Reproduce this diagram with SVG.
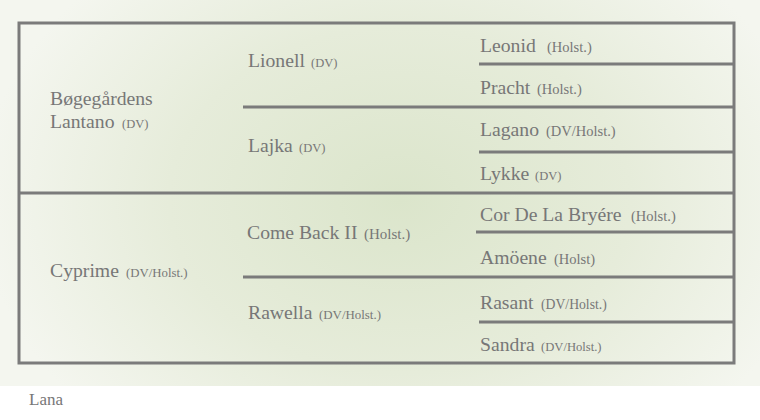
<svg xmlns="http://www.w3.org/2000/svg" width="760" height="420" viewBox="0 0 760 420">
<defs>
<radialGradient id="bg" cx="400" cy="200" r="420" gradientUnits="userSpaceOnUse" gradientTransform="translate(400 200) scale(1 0.75) translate(-400 -200)">
<stop offset="0" stop-color="#dbe5cb"/>
<stop offset="0.55" stop-color="#e6ecda"/>
<stop offset="1" stop-color="#f4f6ef"/>
</radialGradient>
<style>
.ln{stroke:#7b7b7b;stroke-width:3;fill:none}
text{font-family:'Liberation Serif','Times New Roman',serif;font-size:19.7px;fill:#777777}
.s{font-size:12.5px}
.m{font-size:14.5px}
</style>
</defs>
<rect x="0" y="0" width="760" height="386" fill="url(#bg)"/>
<g id="connectors">
<rect class="ln" x="19" y="23" width="715" height="340"/>
<line class="ln" x1="19" y1="193" x2="734" y2="193"/>
<line class="ln" x1="243" y1="107" x2="734" y2="107"/>
<line class="ln" x1="243" y1="277" x2="734" y2="277"/>
<line class="ln" x1="479" y1="64" x2="734" y2="64"/>
<line class="ln" x1="479" y1="152" x2="734" y2="152"/>
<line class="ln" x1="476" y1="232" x2="734" y2="232"/>
<line class="ln" x1="479" y1="322" x2="734" y2="322"/>
</g>
<g id="n-bogegardens"><text x="50" y="105">Bøgegårdens</text><text x="50" y="128">Lantano <tspan class="s" x="122">(DV)</tspan></text></g>
<g id="n-cyprime"><text x="50" y="277">Cyprime <tspan class="s" x="126" style="font-size:12.8px">(DV/Holst.)</tspan></text></g>
<g id="n-lionell"><text x="248" y="67">Lionell <tspan class="s" x="311">(DV)</tspan></text></g>
<g id="n-lajka"><text x="248" y="152">Lajka <tspan class="s" x="299">(DV)</tspan></text></g>
<g id="n-comeback"><text x="247" y="239">Come Back II <tspan class="m" x="364" style="font-size:15px">(Holst.)</tspan></text></g>
<g id="n-rawella"><text x="248" y="319">Rawella <tspan class="s" x="319" style="font-size:12.9px">(DV/Holst.)</tspan></text></g>
<g id="n-leonid"><text x="480" y="52">Leonid <tspan class="m" x="547">(Holst.)</tspan></text></g>
<g id="n-pracht"><text x="480" y="94">Pracht <tspan class="m" x="537">(Holst.)</tspan></text></g>
<g id="n-lagano"><text x="480" y="136">Lagano <tspan class="m" x="546">(DV/Holst.)</tspan></text></g>
<g id="n-lykke"><text x="480" y="180">Lykke <tspan class="s" x="535">(DV)</tspan></text></g>
<g id="n-cor"><text x="480" y="221">Cor De La Bryére <tspan class="m" x="631">(Holst.)</tspan></text></g>
<g id="n-amoene"><text x="480" y="264">Amöene <tspan class="m" x="554">(Holst)</tspan></text></g>
<g id="n-rasant"><text x="480" y="309">Rasant <tspan class="m" x="541" style="font-size:13.7px">(DV/Holst.)</tspan></text></g>
<g id="n-sandra"><text x="480" y="351">Sandra <tspan class="s" x="541" style="font-size:12.6px">(DV/Holst.)</tspan></text></g>
<text x="29" y="405" style="font-size:17px">Lana</text>
</svg>
